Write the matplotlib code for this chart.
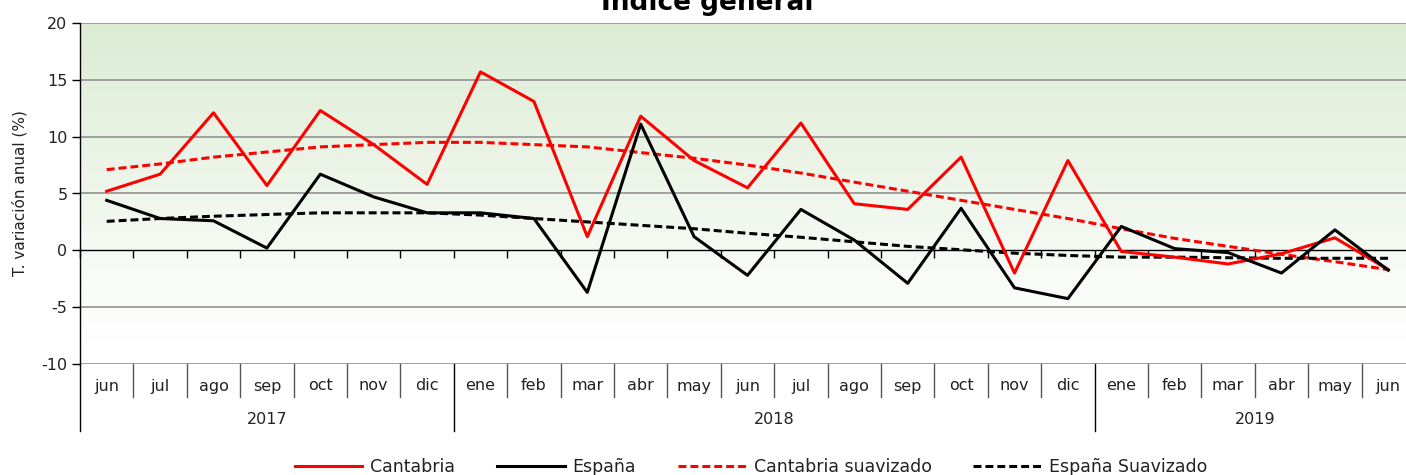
import numpy as np
import matplotlib
matplotlib.use("Agg")
import matplotlib.pyplot as plt
import matplotlib.transforms as mtransforms
from matplotlib.colors import LinearSegmentedColormap

months = ["jun", "jul", "ago", "sep", "oct", "nov", "dic",
          "ene", "feb", "mar", "abr", "may", "jun", "jul", "ago", "sep", "oct", "nov", "dic",
          "ene", "feb", "mar", "abr", "may", "jun"]
years = ["2017", "2018", "2019"]
year_counts = [7, 12, 6]

cantabria = [5.2, 6.7, 12.1, 5.7, 12.3, 9.3, 5.8,
             15.7, 13.1, 1.2, 11.8, 7.9, 5.5, 11.2, 4.1, 3.6, 8.2, -2.0, 7.9,
             -0.1, -0.6, -1.2, -0.3, 1.1, -1.7]
espana = [4.4, 2.8, 2.6, 0.2, 6.7, 4.7, 3.3,
          3.3, 2.8, -3.7, 11.1, 1.2, -2.2, 3.6, 0.9, -2.9, 3.7, -3.3, -4.25,
          2.1, 0.15, -0.2, -2.0, 1.8, -1.75]
cantabria_suav = [7.1, 7.6, 8.2, 8.65, 9.1, 9.3, 9.5,
                  9.5, 9.3, 9.1, 8.6, 8.1, 7.5, 6.8, 6.0, 5.2, 4.4, 3.6, 2.8,
                  1.9, 1.05, 0.35, -0.35, -1.0, -1.7]
espana_suav = [2.55, 2.8, 3.0, 3.15, 3.3, 3.3, 3.3,
               3.1, 2.8, 2.5, 2.2, 1.9, 1.5, 1.15, 0.75, 0.35, 0.05, -0.25, -0.45,
               -0.6, -0.6, -0.65, -0.7, -0.7, -0.7]

plt.rcParams['font.family'] = ['DejaVu Sans']
plt.rcParams['axes.unicode_minus'] = False

W, H = 1406, 475
fig = plt.figure(figsize=(W / 100, H / 100), dpi=100)
left_px, right_px, top_px, bot_px = 80, 1415, 23, 364
ax = fig.add_axes([left_px / W, 1 - bot_px / H, (right_px - left_px) / W, (bot_px - top_px) / H])

n = len(months)
x = np.arange(n)
ax.set_xlim(-0.5, n - 0.5)
ax.set_ylim(-10, 20)

# gradient background
cmap = LinearSegmentedColormap.from_list("g", [(0, "#ffffff"), (2 / 30, "#ffffff"), (1, "#dcecd4")])
grad = np.linspace(0, 1, 256).reshape(-1, 1)
ax.imshow(grad, extent=(-0.5, n - 0.5, -10, 20), origin="lower", cmap=cmap, aspect="auto", zorder=0)

# gridlines
ax.set_yticks([-10, -5, 0, 5, 10, 15, 20])
for yv in [-10, -5, 5, 10, 15, 20]:
    ax.axhline(yv, color="#9a9a9a", lw=1.3, zorder=1)

lw = 2.2
dash = (2.6, 1.3)
ax.plot(x, cantabria, color="#ff0000", lw=lw, zorder=4, label="Cantabria")
ax.plot(x, espana, color="#000000", lw=lw, zorder=4, label="España")
ax.plot(x, cantabria_suav, color="#ff0000", lw=lw, ls=(0, dash), zorder=3, label="Cantabria suavizado")
ax.plot(x, espana_suav, color="#000000", lw=lw, ls=(0, dash), zorder=3, label="España Suavizado")

# spines
for s in ["top", "right"]:
    ax.spines[s].set_visible(False)
ax.spines["bottom"].set_position(("data", 0))
ax.spines["bottom"].set_color("#000000")
ax.spines["bottom"].set_linewidth(1.0)
ax.spines["left"].set_color("#000000")
ax.spines["left"].set_linewidth(1.0)
ax.set_xticks(np.arange(-0.5, n, 1.0))
ax.set_xticklabels([])
ax.tick_params(axis="x", direction="out", length=6, width=1.0, color="#000000")
ax.tick_params(axis="y", direction="out", length=6, width=1.0, color="#000000",
               labelsize=11.5, pad=3, labelcolor="#222222")
ax.set_ylabel("T. variación anual (%)", fontsize=11, color="#222222", labelpad=10)

# multi-level category axis
trans = mtransforms.blended_transform_factory(ax.transData, ax.transAxes)
ph = bot_px - top_px
m_lab_y = -(386 - bot_px) / ph
y_lab_y = -(420 - bot_px) / ph
m_sep = -(397 - bot_px) / ph
y_sep = -(431 - bot_px) / ph
for i, m in enumerate(months):
    ax.text(i, m_lab_y, m, transform=trans, ha="center", va="center", fontsize=11.5, color="#222222")
year_starts = np.concatenate([[0], np.cumsum(year_counts)])
for i in range(n + 1):
    xb = i - 0.5
    if i in year_starts:
        ax.plot([xb, xb], [0, y_sep], transform=trans, color="#000000", lw=1.0, clip_on=False, zorder=5)
    else:
        ax.plot([xb, xb], [0, m_sep], transform=trans, color="#555555", lw=1.0, clip_on=False, zorder=5)
for k, yr in enumerate(years):
    c = (year_starts[k] + year_starts[k + 1] - 1) / 2
    ax.text(c, y_lab_y, yr, transform=trans, ha="center", va="center", fontsize=11.5, color="#222222")

# title (partly cut off at top, as in the reference)
fig.text(707 / W, 1 - 10 / H, "Índice general", ha="center", va="baseline",
         fontsize=19, fontweight="bold", color="#000000")

leg = fig.legend(loc="center", bbox_to_anchor=(751 / W, 1 - 467 / H), ncol=4, frameon=False,
                 fontsize=12.5, handlelength=3.9, handletextpad=0.46, columnspacing=2.4)
for t in leg.get_texts():
    t.set_color("#222222")

fig.savefig("out.png", dpi=100)
